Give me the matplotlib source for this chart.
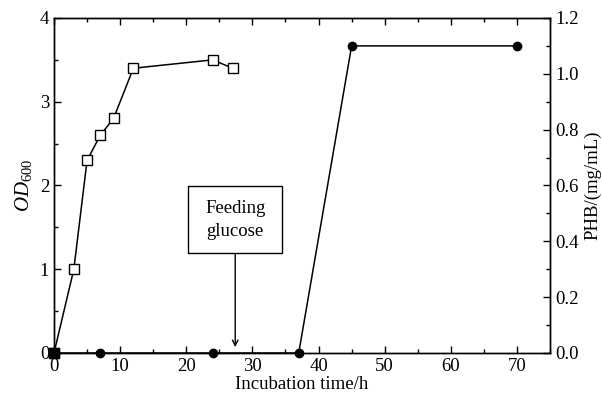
import matplotlib
matplotlib.use('Agg')
import matplotlib.pyplot as plt
from matplotlib.ticker import MultipleLocator, FormatStrFormatter
from matplotlib.patches import Rectangle

plt.rcParams['font.family'] = ['Liberation Serif', 'DejaVu Serif']
plt.rcParams['mathtext.fontset'] = 'custom'
plt.rcParams['mathtext.rm'] = 'Liberation Serif'
plt.rcParams['mathtext.it'] = 'Liberation Serif:italic'

# OD600 growth curve
od_time = [0, 3, 5, 7, 9, 12, 24, 27]
od_value = [0, 1.0, 2.3, 2.6, 2.8, 3.4, 3.5, 3.4]

# PHB concentration
phb_time = [0, 7, 24, 37, 45, 70]
phb_value = [0, 0, 0, 0, 1.1, 1.1]

feed_time = 27.4

fig = plt.figure(figsize=(6.02, 3.96), dpi=100)
ax = fig.add_axes([0.0897, 0.1086, 0.824, 0.846])
ax2 = ax.twinx()

ax.plot(od_time, od_value, color='black', lw=1.1, marker='s', ms=6.5,
        mfc='white', mec='black', mew=1.0, zorder=3, clip_on=False)
ax2.plot(phb_time, phb_value, color='black', lw=1.1, marker='o', ms=6,
         mfc='black', mec='black', zorder=3, clip_on=False)
ax2.plot(phb_time[:1], phb_value[:1], marker='s', ms=7, color='black',
         ls='none', zorder=4, clip_on=False)

ax.set_xlim(0, 75)
ax.set_ylim(0, 4)
ax2.set_ylim(0, 1.2)

ax.xaxis.set_major_locator(MultipleLocator(10))
ax.xaxis.set_minor_locator(MultipleLocator(5))
ax.yaxis.set_major_locator(MultipleLocator(1))
ax.yaxis.set_minor_locator(MultipleLocator(0.5))
ax2.yaxis.set_major_locator(MultipleLocator(0.2))
ax2.yaxis.set_minor_locator(MultipleLocator(0.1))
ax2.yaxis.set_major_formatter(FormatStrFormatter('%.1f'))

ax.tick_params(which='both', direction='in', top=True, labelsize=13.5, width=1.0)
ax.tick_params(which='major', length=5)
ax.tick_params(which='minor', length=3)
ax.tick_params(axis='y', which='both', right=False)
ax2.tick_params(which='both', direction='in', labelsize=13.5, width=1.0)
ax2.tick_params(which='major', length=5)
ax2.tick_params(which='minor', length=3)

for sp in list(ax.spines.values()) + list(ax2.spines.values()):
    sp.set_linewidth(1.0)

ax.set_xlabel('Incubation time/h', fontsize=13.5, labelpad=1)
ax.set_ylabel(r'$\mathit{OD}_{600}$', fontsize=15, labelpad=4)
ax2.set_ylabel('PHB/(mg/mL)', fontsize=13.5, labelpad=4)

# annotation box with arrow to feeding time
box_lo, box_hi = 1.19, 1.99
ax.add_patch(Rectangle((20.3, box_lo), 14.2, box_hi - box_lo, fc='white',
                       ec='black', lw=1.0, zorder=5))
ax.text(feed_time, (box_lo + box_hi) / 2, 'Feeding\nglucose', ha='center',
        va='center', fontsize=13.5, linespacing=1.5, zorder=6)
ax.annotate('', xy=(feed_time, 0.07), xytext=(feed_time, box_lo),
            arrowprops=dict(arrowstyle='->', color='black', lw=1.0,
                            shrinkA=0, shrinkB=0))

fig.savefig('out.png', dpi=100)
